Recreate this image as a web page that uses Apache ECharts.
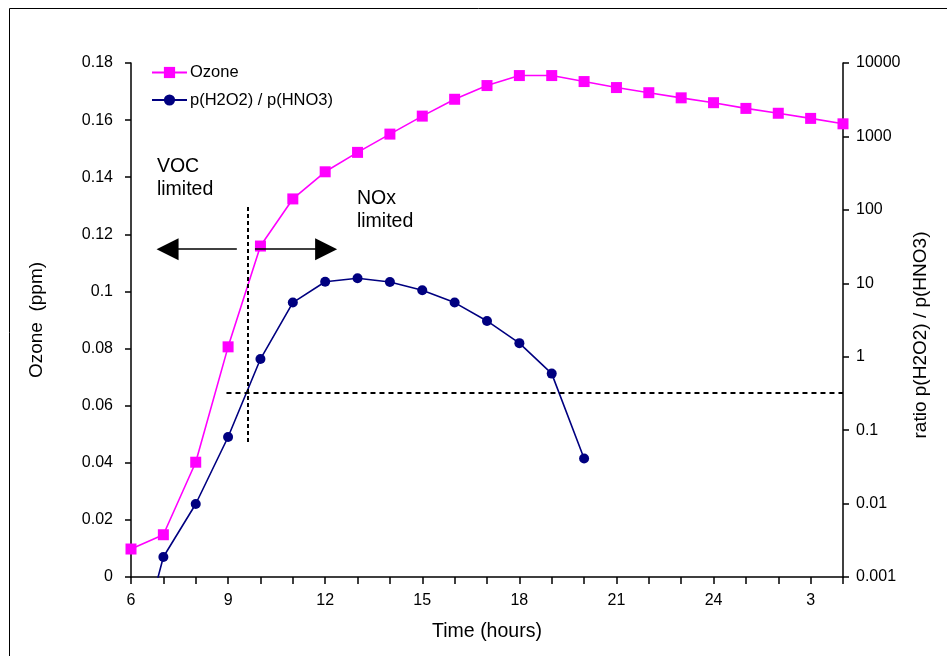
<!DOCTYPE html>
<html>
<head>
<meta charset="utf-8">
<script src="https://cdn.jsdelivr.net/npm/echarts@6/dist/echarts.min.js"></script>
<style>
  html, body { margin: 0; padding: 0; background: #fff; }
  #chart { width: 947px; height: 656px; }
</style>
</head>
<body>
<div id="chart"></div>
<script>
// hours of the day (27, 28 = 3, 4 next morning)
const hours = [6, 7, 8, 9, 10, 11, 12, 13, 14, 15, 16, 17, 18, 19, 20, 21, 22, 23, 24, 25, 26, 27, 28];
const ozone = [0.0098, 0.0148, 0.0402, 0.0806, 0.1159, 0.1324, 0.1419, 0.1487, 0.1551, 0.1614, 0.1673, 0.1721,
  0.1756, 0.1756, 0.1735, 0.1714, 0.1696, 0.1678, 0.1661, 0.1641, 0.1624, 0.1606, 0.1587];
const ratioHours = [6, 7, 8, 9, 10, 11, 12, 13, 14, 15, 16, 17, 18, 19, 20];
const ratio = [0.00004, 0.00187, 0.00987, 0.0807, 0.93, 5.46, 10.5, 11.7, 10.4, 8.05, 5.46, 3.07, 1.53, 0.589, 0.041];

// transition markers
const vocNoxHour = 9.62;
const vocNoxOzone = [0.0473, 0.1303];
const ratioLimit = 0.324;
const arrowOzone = 0.1148;

const font = 'Liberation Sans, Arial, sans-serif';
const chart = echarts.init(document.getElementById('chart'));

const zip = (xs, ys) => xs.map((x, i) => [x, ys[i]]);

const option = {
  animation: false,
  textStyle: { fontFamily: font, color: '#000' },
  graphic: [{
    type: 'rect',
    shape: { x: 9.5, y: 8.5, width: 1000, height: 700 },
    style: { fill: 'none', stroke: '#000', lineWidth: 1 },
    silent: true
  }],
  grid: { left: 131, right: 104, top: 63, bottom: 79 },
  legend: {
    orient: 'vertical',
    left: 151, top: 64,
    padding: 0,
    itemWidth: 35, itemHeight: 14, itemGap: 10.5,
    textStyle: { fontFamily: font, fontSize: 16.5, color: '#000', padding: [0, 0, 0, -2] },
    data: ['Ozone', 'p(H2O2) / p(HNO3)']
  },
  xAxis: {
    type: 'value', min: 6, max: 28, interval: 1,
    name: 'Time (hours)', nameLocation: 'middle', nameGap: 45,
    nameTextStyle: { fontFamily: font, fontSize: 19.5, color: '#000' },
    axisLine: { onZero: false, lineStyle: { color: '#000', width: 1.5 } },
    axisTick: { length: 7, lineStyle: { color: '#000', width: 1.5 } },
    axisLabel: {
      margin: 16, fontFamily: font, fontSize: 16, color: '#000',
      formatter: v => (v % 3 === 0 ? String(v > 24 ? v - 24 : v) : '')
    },
    splitLine: { show: false }
  },
  yAxis: [{
    type: 'value', min: 0, max: 0.18, interval: 0.02,
    name: 'Ozone  (ppm)', nameLocation: 'middle', nameGap: 85, nameRotate: 90,
    nameTextStyle: { fontFamily: font, fontSize: 19, color: '#000' },
    axisLine: { show: true, lineStyle: { color: '#000', width: 1.5 } },
    axisTick: { show: true, length: 6, lineStyle: { color: '#000', width: 1.5 } },
    axisLabel: { margin: 18, fontFamily: font, fontSize: 16, color: '#000' },
    splitLine: { show: false }
  }, {
    type: 'log', logBase: 10, min: 0.001, max: 10000, position: 'right',
    name: 'ratio p(H2O2) / p(HNO3)', nameLocation: 'middle', nameGap: 45, nameRotate: 90,
    nameTextStyle: { fontFamily: font, fontSize: 19, color: '#000', padding: [0, 30, 0, 0] },
    axisLine: { show: true, lineStyle: { color: '#000', width: 1.5 } },
    axisTick: { show: true, length: 6, lineStyle: { color: '#000', width: 1.5 } },
    axisLabel: {
      margin: 13, fontFamily: font, fontSize: 16, color: '#000',
      formatter: v => String(+Number(v).toPrecision(6))
    },
    splitLine: { show: false }
  }],
  series: [{
    name: 'Ozone',
    type: 'line',
    yAxisIndex: 0,
    data: zip(hours, ozone),
    symbol: 'rect', symbolSize: 11,
    lineStyle: { color: '#ff00ff', width: 1.6 },
    itemStyle: { color: '#ff00ff' },
    markLine: {
      silent: true, animation: false,
      label: { show: false },
      emphasis: { disabled: true },
      data: [
        [{ coord: [vocNoxHour, vocNoxOzone[0]], symbol: 'none', lineStyle: { type: [4, 3], width: 2 } },
         { coord: [vocNoxHour, vocNoxOzone[1]], symbol: 'none' }],
        [{ coord: [9.27, arrowOzone], symbol: 'none' },
         { coord: [7.13, arrowOzone], symbol: 'triangle', symbolSize: 22 }],
        [{ coord: [9.83, arrowOzone], symbol: 'none' },
         { coord: [12.03, arrowOzone], symbol: 'triangle', symbolSize: 22 }]
      ],
      lineStyle: { color: '#000', type: 'solid', width: 1.5 },
      symbol: ['none', 'triangle']
    },
    markPoint: {
      silent: true,
      symbol: 'circle', symbolSize: 0,
      itemStyle: { color: 'transparent' },
      label: {
        show: true, position: 'right', distance: 0,
        fontFamily: font, fontSize: 19.5, lineHeight: 23, color: '#000', align: 'left'
      },
      data: [
        { coord: [6.8, 0.1397], label: { formatter: 'VOC\nlimited' } },
        { coord: [12.98, 0.1285], label: { formatter: 'NOx\nlimited' } }
      ]
    }
  }, {
    name: 'p(H2O2) / p(HNO3)',
    type: 'line',
    yAxisIndex: 1,
    data: zip(ratioHours, ratio),
    symbol: 'circle', symbolSize: 10,
    lineStyle: { color: '#000080', width: 1.6 },
    itemStyle: { color: '#000080' },
    markLine: {
      silent: true, animation: false,
      symbol: 'none',
      label: { show: false },
      emphasis: { disabled: true },
      lineStyle: { color: '#000', type: [5, 4], width: 2 },
      data: [[{ coord: [8.95, ratioLimit] }, { coord: [28, ratioLimit] }]]
    }
  }]
};

chart.setOption(option);
</script>
</body>
</html>
